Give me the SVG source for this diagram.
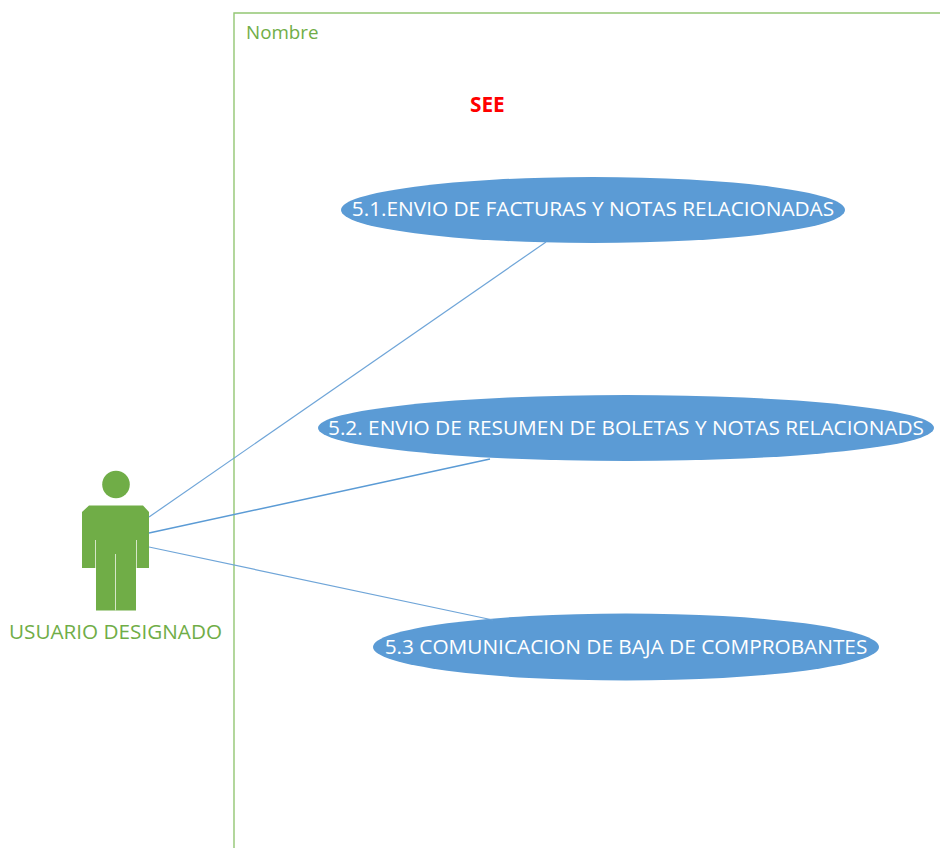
<svg xmlns="http://www.w3.org/2000/svg" width="940" height="848" viewBox="0 0 940 848">
<style>
.uc{fill:#5b9bd5}
.ut{font:20.8px "Open Sans","Noto Sans",sans-serif;fill:#fff;text-anchor:middle}
.c{stroke:#6fa5d8;stroke-width:1.2;fill:none}
.gap{stroke:#d5e6c8;stroke-width:1;fill:none}
</style>
<rect width="940" height="848" fill="#fff"/>
<g id="boundary"><path d="M940 13H234V848" fill="none" stroke="#93c673" stroke-width="1.4"/>
<text x="246" y="38.500" font-family="Open Sans, Noto Sans, sans-serif" font-size="18.800" fill="#70ad47">Nombre</text></g>
<text id="see" x="470" y="112" font-family="Open Sans, Noto Sans, sans-serif" font-size="20.800" font-weight="700" fill="#ff0000">SEE</text>
<g id="actor">
<circle cx="116" cy="484.500" r="13.800" fill="#70ad47"/>
<path d="M89 505.500H143L149 512V568H136V610.500H96V568H82V512Z" fill="#70ad47"/>
<path class="gap" d="M95.500 540V568M136.500 540V568M115.500 554V610.500"/>
<text x="115.500" y="639" text-anchor="middle" font-family="Open Sans, Noto Sans, sans-serif" font-size="20.700" fill="#70ad47">USUARIO DESIGNADO</text>
</g>
<g id="uc1"><ellipse class="uc" cx="593" cy="210" rx="252" ry="33"/><text class="ut" x="593" y="216">5.1.ENVIO DE FACTURAS Y NOTAS RELACIONADAS</text></g>
<g id="uc2"><ellipse class="uc" cx="626" cy="428" rx="308" ry="33"/><text class="ut" x="626" y="435">5.2. ENVIO DE RESUMEN DE BOLETAS Y NOTAS RELACIONADS</text></g>
<g id="uc3"><ellipse class="uc" cx="626" cy="647" rx="253" ry="33.500"/><text class="ut" x="626" y="654">5.3 COMUNICACION DE BAJA DE COMPROBANTES</text></g>
<g id="connectors">
<path class="c" d="M149 517L546 242"/>
<path class="c" d="M149 533L490 459" style="stroke-width:1.600;stroke:#5b9bd5"/>
<path class="c" d="M149 547L493 620"/>
</g>
</svg>
